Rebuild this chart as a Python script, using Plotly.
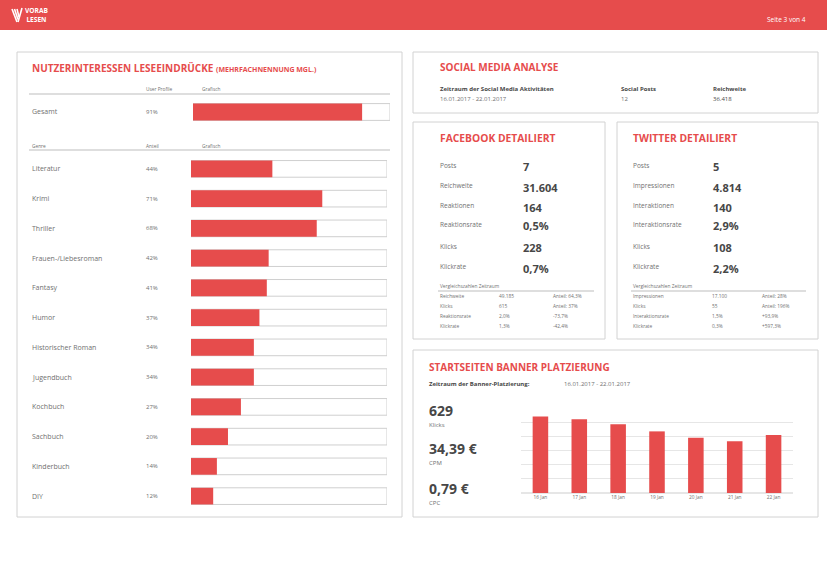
import plotly.graph_objects as go

W, H = 827, 571
RED = "#e64c4c"
GRID = "#e6e6e6"
BORDER = "#d2d2d2"
TXT = "#707070"
DARK = "#474747"
FONT = "Open Sans"

# ---------------- data ----------------
total_label = "Gesamt"
total_value = 91
genres = ["Literatur", "Krimi", "Thriller", "Frauen-/Liebesroman", "Fantasy", "Humor",
          "Historischer Roman", "Jugendbuch", "Kochbuch", "Sachbuch", "Kinderbuch", "DIY"]
genre_values = [44, 71, 68, 42, 41, 37, 34, 34, 27, 20, 14, 12]
scale_max = 106

summary_period = "16.01.2017 - 22.01.2017"
summary_posts = "12"
summary_reach = "36.418"

fb_labels = ["Posts", "Reichweite", "Reaktionen", "Reaktionsrate", "Klicks", "Klickrate"]
fb_values = ["7", "31.604", "164", "0,5%", "228", "0,7%"]
fb_cmp_labels = ["Reichweite", "Klicks", "Reaktionsrate", "Klickrate"]
fb_cmp_values = ["49.185", "615", "2,0%", "1,3%"]
fb_cmp_delta = ["Anteil: 64,3%", "Anteil: 37%", "-73,7%", "-42,4%"]

tw_labels = ["Posts", "Impressionen", "Interaktionen", "Interaktionsrate", "Klicks", "Klickrate"]
tw_values = ["5", "4.814", "140", "2,9%", "108", "2,2%"]
tw_cmp_labels = ["Impressionen", "Klicks", "Interaktionsrate", "Klickrate"]
tw_cmp_values = ["17.100", "55", "1,5%", "0,3%"]
tw_cmp_delta = ["Anteil: 28%", "Anteil: 196%", "+93,9%", "+597,3%"]

banner_period = "16.01.2017 - 22.01.2017"
banner_kpis = ["629", "34,39 €", "0,79 €"]
banner_kpi_labels = ["Klicks", "CPM", "CPC"]
banner_days = ["16 Jan", "17 Jan", "18 Jan", "19 Jan", "20 Jan", "21 Jan", "22 Jan"]
banner_clicks = [108, 104, 97, 87, 78, 73, 82]

# ---------------- helpers ----------------
def px(x):
    return x / W

def py(y):
    return 1 - y / H

annotations = []
shapes = []

def txt(x, y, s, size, color=TXT, bold=False, anchor="left"):
    annotations.append(dict(
        x=px(x), y=py(y), xref="paper", yref="paper", text=(f"<b>{s}</b>" if bold else s),
        showarrow=False, xanchor=anchor, yanchor="middle",
        font=dict(size=size, color=color, family=FONT)))

def box(x0, y0, x1, y1, fill=None, line=BORDER):
    shapes.append(dict(type="rect", xref="paper", yref="paper",
                       x0=px(x0), x1=px(x1), y0=py(y1), y1=py(y0),
                       line=dict(color=line, width=1 if line else 0),
                       fillcolor=fill if fill else "rgba(0,0,0,0)", layer="below"))

def hline(x0, x1, y, color="#bdbdbd", width=1):
    shapes.append(dict(type="line", xref="paper", yref="paper",
                       x0=px(x0), x1=px(x1), y0=py(y), y1=py(y),
                       line=dict(color=color, width=width)))

fig = go.Figure()

# ---------------- header ----------------
shapes.append(dict(type="rect", xref="paper", yref="paper", x0=0, x1=1, y0=py(30), y1=1,
                   fillcolor=RED, line=dict(width=0), layer="below"))
logo_pts = [((12, 9), (17, 22)), ((14.5, 9), (18, 19.5)), ((17, 9), (19, 17)), ((22, 8), (18, 22))]
for (a, b) in logo_pts:
    shapes.append(dict(type="line", xref="paper", yref="paper",
                       x0=px(a[0]), y0=py(a[1]), x1=px(b[0]), y1=py(b[1]),
                       line=dict(color="white", width=1.6)))
txt(23, 15.5, "VORAB<br>LESEN", 6.6, "white", bold=True)
txt(808, 19, "Seite 3 von 4", 6.5, "white", anchor="right")

# ---------------- left panel ----------------
box(17, 52, 402, 517)
annotations.append(dict(x=px(30), y=py(68), xref="paper", yref="paper", showarrow=False,
                        xanchor="left", yanchor="middle",
                        text="<b>NUTZERINTERESSEN LESEEINDRÜCKE</b> <b><span style='font-size:7px'>(MEHRFACHNENNUNG MGL.)</span></b>",
                        font=dict(size=10, color=RED, family=FONT)))
txt(144, 89.5, "User Profile", 4.8)
txt(200, 89.5, "Grafisch", 4.8)
hline(29, 390, 94)
txt(30, 146, "Genre", 4.8)
txt(144, 146, "Anteil", 4.8)
txt(200, 146, "Grafisch", 4.8)
hline(29, 390, 150)

# Gesamt bar (track + fill)
fig.add_trace(go.Bar(x=[scale_max], y=[total_label], orientation="h", width=0.56,
                     marker=dict(color="white", line=dict(color="#cfcfcf", width=1)),
                     xaxis="x", yaxis="y", hoverinfo="skip", showlegend=False))
fig.add_trace(go.Bar(x=[total_value], y=[total_label], orientation="h", width=0.56,
                     marker=dict(color=RED, line=dict(width=0)),
                     xaxis="x", yaxis="y", showlegend=False))
annotations.append(dict(x=px(30), y=total_label, xref="paper", yref="y", text=total_label,
                        showarrow=False, xanchor="left", font=dict(size=7, color=TXT, family=FONT)))
annotations.append(dict(x=px(144), y=total_label, xref="paper", yref="y", text=f"{total_value}%",
                        showarrow=False, xanchor="left", font=dict(size=6, color=TXT, family=FONT)))

# Genre bars
fig.add_trace(go.Bar(x=[scale_max] * len(genres), y=genres, orientation="h", width=0.56,
                     marker=dict(color="white", line=dict(color="#cfcfcf", width=1)),
                     xaxis="x2", yaxis="y2", hoverinfo="skip", showlegend=False))
fig.add_trace(go.Bar(x=genre_values, y=genres, orientation="h", width=0.56,
                     marker=dict(color=RED, line=dict(width=0)),
                     xaxis="x2", yaxis="y2", showlegend=False))
for g, v in zip(genres, genre_values):
    annotations.append(dict(x=px(30), y=g, xref="paper", yref="y2", text=g, showarrow=False,
                            xanchor="left", font=dict(size=7, color=TXT, family=FONT)))
    annotations.append(dict(x=px(144), y=g, xref="paper", yref="y2", text=f"{v}%", showarrow=False,
                            xanchor="left", font=dict(size=6, color=TXT, family=FONT)))

# ---------------- social media summary ----------------
box(413, 52, 818, 113)
txt(438, 67, "SOCIAL MEDIA ANALYSE", 10, RED, bold=True)
txt(438, 89, "Zeitraum der Social Media Aktivitäten", 6, DARK, bold=True)
txt(438, 99, summary_period, 6, TXT)
txt(619, 89, "Social Posts", 6, DARK, bold=True)
txt(619, 99, summary_posts, 6, TXT)
txt(711, 89, "Reichweite", 6, DARK, bold=True)
txt(711, 99, summary_reach, 6, DARK)

# ---------------- facebook / twitter ----------------
row_label_y = [165, 185, 205, 224, 246, 266]
cmp_y = [296, 306, 316, 326]

def detail(x0, x1, title, lx, vx, cx, dx, line_end, labels, values, clabels, cvalues, cdelta):
    box(x0, 122, x1, 339)
    txt(lx, 138, title, 10.3, RED, bold=True)
    for yy, l, v in zip(row_label_y, labels, values):
        txt(lx, yy, l, 6.5, TXT)
        txt(vx, yy + 2, v, 11, DARK, bold=True)
    txt(lx, 286, "Vergleichszahlen Zeitraum", 4.8, TXT)
    hline(lx, line_end, 291)
    for yy, l, v, d in zip(cmp_y, clabels, cvalues, cdelta):
        txt(lx, yy, l, 4.8, TXT)
        txt(cx, yy, v, 4.8, TXT)
        txt(dx, yy, d, 4.8, TXT)

detail(413, 605, "FACEBOOK DETAILIERT", 438, 521, 497, 551, 594,
       fb_labels, fb_values, fb_cmp_labels, fb_cmp_values, fb_cmp_delta)
detail(617, 818, "TWITTER DETAILIERT", 631, 711, 710, 760, 806,
       tw_labels, tw_values, tw_cmp_labels, tw_cmp_values, tw_cmp_delta)

# ---------------- banner ----------------
box(413, 350, 818, 517)
txt(427, 367, "STARTSEITEN BANNER PLATZIERUNG", 10, RED, bold=True)
txt(427, 384, "Zeitraum der Banner-Platzierung:", 6, DARK, bold=True)
txt(562, 384, banner_period, 6, TXT)
for yy, v, l in zip([410, 448, 488], banner_kpis, banner_kpi_labels):
    txt(427, yy, v, 14, DARK, bold=True)
    txt(427, yy + 14.5, l, 6, TXT)

fig.add_trace(go.Bar(x=banner_days, y=banner_clicks, width=0.4, marker=dict(color=RED, line=dict(width=0)),
                     xaxis="x3", yaxis="y3", showlegend=False))

fig.update_layout(
    width=W, height=H, margin=dict(l=0, r=0, t=0, b=0),
    paper_bgcolor="white", plot_bgcolor="rgba(0,0,0,0)",
    barmode="overlay", showlegend=False,
    font=dict(family=FONT, color=TXT),
    shapes=shapes, annotations=annotations,
    xaxis=dict(domain=[px(193), px(390)], range=[0, scale_max], visible=False, fixedrange=True, anchor="y"),
    yaxis=dict(domain=[py(127), py(97)], visible=False, fixedrange=True, anchor="x"),
    xaxis2=dict(domain=[px(191), px(387)], range=[0, scale_max], visible=False, fixedrange=True, anchor="y2"),
    yaxis2=dict(domain=[py(511), py(154)], visible=False, autorange="reversed", anchor="x2",
                categoryorder="array", categoryarray=genres, fixedrange=True),
    xaxis3=dict(domain=[px(521), px(793)], showgrid=False, showline=False, ticks="", anchor="y3",
                tickfont=dict(size=4.8, color=TXT, family=FONT), fixedrange=True),
    yaxis3=dict(domain=[py(493), py(408)], range=[0, 120], dtick=20, showgrid=True, gridcolor=GRID,
                anchor="x3", showticklabels=False, zeroline=True, zerolinecolor=GRID, fixedrange=True),
)

fig.write_html("out.html", config={"displayModeBar": False},
               post_script="document.body.style.margin='0';document.body.style.padding='0';")
